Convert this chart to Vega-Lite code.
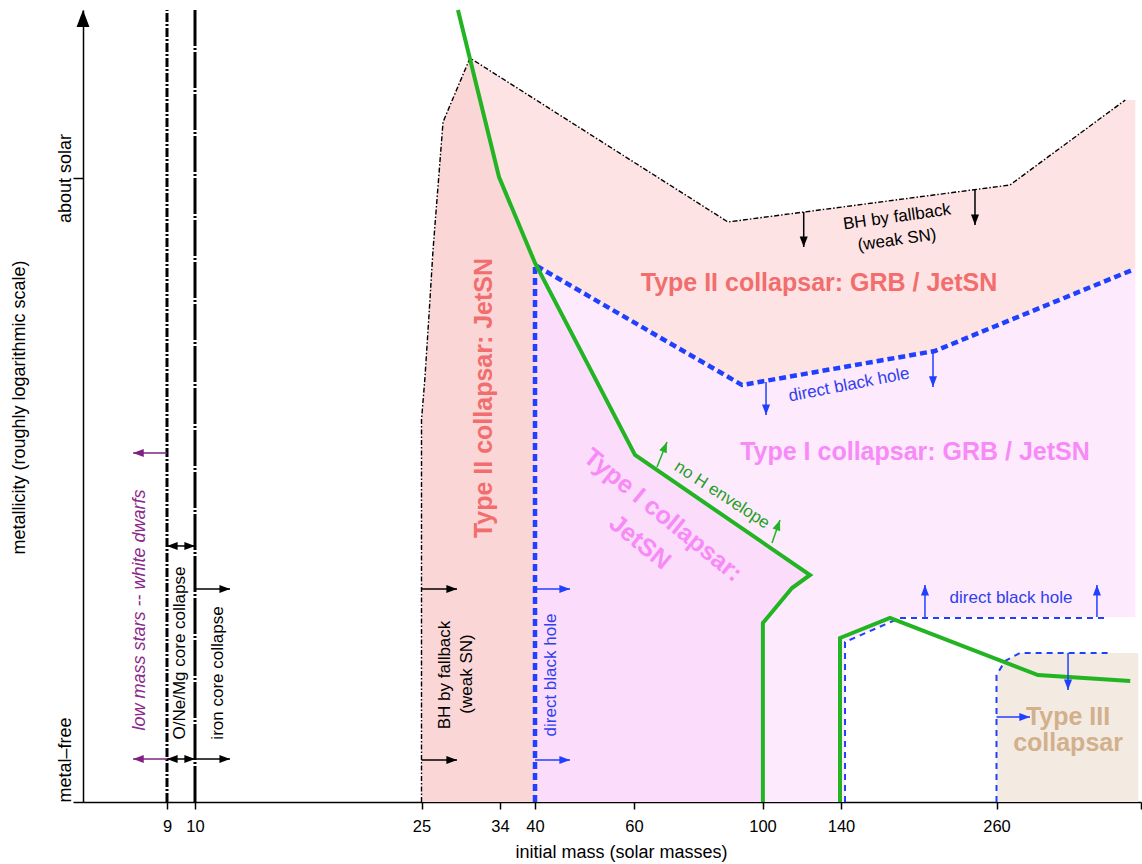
{
  "$schema": "https://vega.github.io/schema/vega-lite/v6.json",
  "width": 1058,
  "height": 792,
  "autosize": {"type": "none"},
  "padding": {"left": 83, "top": 10, "right": 1, "bottom": 62},
  "background": "white",
  "config": {"view": {"stroke": null}, "font": "Liberation Sans"},
  "datasets": {
    "regions": [
      {"p": "II", "i": 0, "m": 25, "z": 0},
      {"p": "II", "i": 1, "m": 25, "z": 0.6122},
      {"p": "II", "i": 2, "m": 25.4, "z": 0.6811},
      {"p": "II", "i": 3, "m": 25.86, "z": 0.7804},
      {"p": "II", "i": 4, "m": 26.32, "z": 0.8846},
      {"p": "II", "i": 5, "m": 27.47, "z": 1.0897},
      {"p": "II", "i": 6, "m": 30.56, "z": 1.1923},
      {"p": "II", "i": 7, "m": 89.26, "z": 0.9295},
      {"p": "II", "i": 8, "m": 270.4, "z": 0.9888},
      {"p": "II", "i": 9, "m": 359.4, "z": 1.125},
      {"p": "II", "i": 10, "m": 367.1, "z": 1.125},
      {"p": "II", "i": 11, "m": 367.1, "z": 0.8558},
      {"p": "II", "i": 12, "m": 364.8, "z": 0.8526},
      {"p": "II", "i": 13, "m": 212.5, "z": 0.7228},
      {"p": "II", "i": 14, "m": 93.62, "z": 0.6683},
      {"p": "II", "i": 15, "m": 40, "z": 0.8606},
      {"p": "II", "i": 16, "m": 40, "z": 0},
      {"p": "IIx", "i": 0, "m": 25, "z": 0},
      {"p": "IIx", "i": 1, "m": 25, "z": 0.6122},
      {"p": "IIx", "i": 2, "m": 25.4, "z": 0.6811},
      {"p": "IIx", "i": 3, "m": 25.86, "z": 0.7804},
      {"p": "IIx", "i": 4, "m": 26.32, "z": 0.8846},
      {"p": "IIx", "i": 5, "m": 27.47, "z": 1.0897},
      {"p": "IIx", "i": 6, "m": 30.56, "z": 1.1923},
      {"p": "IIx", "i": 7, "m": 33.89, "z": 1.0016},
      {"p": "IIx", "i": 8, "m": 40, "z": 0.8638},
      {"p": "IIx", "i": 9, "m": 40, "z": 0},
      {"p": "I", "i": 0, "m": 40, "z": 0.8606},
      {"p": "I", "i": 1, "m": 93.62, "z": 0.6683},
      {"p": "I", "i": 2, "m": 212.5, "z": 0.7228},
      {"p": "I", "i": 3, "m": 364.8, "z": 0.8526},
      {"p": "I", "i": 4, "m": 367.1, "z": 0.8558},
      {"p": "I", "i": 5, "m": 367.1, "z": 0.2965},
      {"p": "I", "i": 6, "m": 185.5, "z": 0.2965},
      {"p": "I", "i": 7, "m": 143.1, "z": 0.2564},
      {"p": "I", "i": 8, "m": 143.1, "z": 0},
      {"p": "I", "i": 9, "m": 40, "z": 0},
      {"p": "Ix", "i": 0, "m": 40, "z": 0.8606},
      {"p": "Ix", "i": 1, "m": 60.31, "z": 0.5561},
      {"p": "Ix", "i": 2, "m": 124.21, "z": 0.3638},
      {"p": "Ix", "i": 3, "m": 115.03, "z": 0.3429},
      {"p": "Ix", "i": 4, "m": 100.2, "z": 0.2869},
      {"p": "Ix", "i": 5, "m": 100.2, "z": 0},
      {"p": "Ix", "i": 6, "m": 40, "z": 0},
      {"p": "III", "i": 0, "m": 260, "z": 0},
      {"p": "III", "i": 1, "m": 260, "z": 0.2035},
      {"p": "III", "i": 2, "m": 266.6, "z": 0.226},
      {"p": "III", "i": 3, "m": 278.1, "z": 0.2388},
      {"p": "III", "i": 4, "m": 369.4, "z": 0.2388},
      {"p": "III", "i": 5, "m": 369.4, "z": 0}
    ],
    "lines": [
      {"id": "g1", "i": 0, "m": 29.18, "z": 1.2692},
      {"id": "g1", "i": 1, "m": 33.89, "z": 1.0016},
      {"id": "g1", "i": 2, "m": 40, "z": 0.8638},
      {"id": "g1", "i": 3, "m": 60.31, "z": 0.5561},
      {"id": "g1", "i": 4, "m": 124.21, "z": 0.3638},
      {"id": "g1", "i": 5, "m": 115.03, "z": 0.3429},
      {"id": "g1", "i": 6, "m": 100.2, "z": 0.2869},
      {"id": "g1", "i": 7, "m": 100.2, "z": 0},
      {"id": "g2", "i": 0, "m": 139.5, "z": 0},
      {"id": "g2", "i": 1, "m": 139.5, "z": 0.2628},
      {"id": "g2", "i": 2, "m": 177.8, "z": 0.2949},
      {"id": "g2", "i": 3, "m": 292.0, "z": 0.2035},
      {"id": "g2", "i": 4, "m": 363.2, "z": 0.1939},
      {"id": "b1", "i": 0, "m": 40, "z": 0},
      {"id": "b1", "i": 1, "m": 40, "z": 0.8606},
      {"id": "b1", "i": 2, "m": 93.62, "z": 0.6683},
      {"id": "b1", "i": 3, "m": 212.5, "z": 0.7228},
      {"id": "b1", "i": 4, "m": 364.8, "z": 0.8526},
      {"id": "b2", "i": 0, "m": 143.1, "z": 0},
      {"id": "b2", "i": 1, "m": 143.1, "z": 0.2564},
      {"id": "b2", "i": 2, "m": 185.5, "z": 0.2949},
      {"id": "b2", "i": 3, "m": 345.5, "z": 0.2949},
      {"id": "b3", "i": 0, "m": 260, "z": 0},
      {"id": "b3", "i": 1, "m": 260, "z": 0.2035},
      {"id": "b3", "i": 2, "m": 266.6, "z": 0.226},
      {"id": "b3", "i": 3, "m": 278.1, "z": 0.2388},
      {"id": "b3", "i": 4, "m": 347.8, "z": 0.2388},
      {"id": "f1", "i": 0, "m": 25, "z": 0},
      {"id": "f1", "i": 1, "m": 25, "z": 0.6122},
      {"id": "f1", "i": 2, "m": 25.4, "z": 0.6811},
      {"id": "f1", "i": 3, "m": 25.86, "z": 0.7804},
      {"id": "f1", "i": 4, "m": 26.32, "z": 0.8846},
      {"id": "f1", "i": 5, "m": 27.47, "z": 1.0897},
      {"id": "f1", "i": 6, "m": 30.56, "z": 1.1923},
      {"id": "f1", "i": 7, "m": 89.26, "z": 0.9295},
      {"id": "f1", "i": 8, "m": 270.4, "z": 0.9888},
      {"id": "f1", "i": 9, "m": 359.4, "z": 1.125},
      {"id": "v9", "i": 0, "m": 9, "z": 0},
      {"id": "v9", "i": 1, "m": 9, "z": 1.2692},
      {"id": "v10", "i": 0, "m": 10, "z": 0},
      {"id": "v10", "i": 1, "m": 10, "z": 1.2692}
    ],
    "arrows": [
      {"m": 9, "z": 0.5593, "m2": 7.79, "z2": 0.5593, "c": "#802080", "a": 270},
      {"m": 9, "z": 0.0689, "m2": 7.79, "z2": 0.0689, "c": "#802080", "a": 270},
      {"m": 9.5, "z": 0.4103, "m2": 9, "z2": 0.4103, "c": "black", "a": 270},
      {"m": 9.5, "z": 0.4103, "m2": 10, "z2": 0.4103, "c": "black", "a": 90},
      {"m": 9.5, "z": 0.0689, "m2": 9, "z2": 0.0689, "c": "black", "a": 270},
      {"m": 9.5, "z": 0.0689, "m2": 10, "z2": 0.0689, "c": "black", "a": 90},
      {"m": 10, "z": 0.3413, "m2": 12.32, "z2": 0.3413, "c": "black", "a": 90},
      {"m": 10, "z": 0.0689, "m2": 12.32, "z2": 0.0689, "c": "black", "a": 90},
      {"m": 25, "z": 0.3413, "m2": 29.07, "z2": 0.3413, "c": "black", "a": 90},
      {"m": 25, "z": 0.0673, "m2": 29.07, "z2": 0.0673, "c": "black", "a": 90},
      {"m": 40, "z": 0.3413, "m2": 47.07, "z2": 0.3413, "c": "#2040ff", "a": 90},
      {"m": 40, "z": 0.0673, "m2": 47.07, "z2": 0.0673, "c": "#2040ff", "a": 90},
      {"m": 121.0, "z": 0.9455, "m2": 121.0, "z2": 0.8894, "c": "black", "a": 180},
      {"m": 243.4, "z": 0.9808, "m2": 243.4, "z2": 0.9247, "c": "black", "a": 180},
      {"m": 101.8, "z": 0.6731, "m2": 101.8, "z2": 0.6202, "c": "#2040ff", "a": 180},
      {"m": 211.0, "z": 0.7196, "m2": 211.0, "z2": 0.6651, "c": "#2040ff", "a": 180},
      {"m": 204.8, "z": 0.2965, "m2": 204.8, "z2": 0.3478, "c": "#2040ff", "a": 0},
      {"m": 337.5, "z": 0.2965, "m2": 337.5, "z2": 0.3478, "c": "#2040ff", "a": 0},
      {"m": 315.2, "z": 0.2388, "m2": 315.2, "z2": 0.1795, "c": "#2040ff", "a": 180},
      {"m": 260, "z": 0.1362, "m2": 285.8, "z2": 0.1362, "c": "#2040ff", "a": 90},
      {"m": 67.16, "z": 0.5369, "m2": 70.27, "z2": 0.5769, "c": "#22b422", "a": 22},
      {"m": 104.84, "z": 0.4151, "m2": 108.92, "z2": 0.4519, "c": "#22b422", "a": 20}
    ],
    "labels": [
      {"g": "big", "t": "Type II collapsar: GRB / JetSN", "m": 128.8, "z": 0.8317, "a": 0, "c": "#f26d6d"},
      {"g": "big", "t": "Type I collapsar: GRB / JetSN", "m": 197.1, "z": 0.5609, "a": 0, "c": "#f78af7"},
      {"g": "big", "t": "Type II collapsar: JetSN", "m": 32.17, "z": 0.6474, "a": 270, "c": "#f26d6d"},
      {"g": "big", "t": "Type I collapsar:", "m": 69.03, "z": 0.4599, "a": 39, "c": "#f78af7"},
      {"g": "big", "t": "JetSN", "m": 61.87, "z": 0.4167, "a": 39, "c": "#f78af7"},
      {"g": "big", "t": "Type III", "m": 315.2, "z": 0.1362, "a": 0, "c": "#d2b08c"},
      {"g": "big", "t": "collapsar", "m": 315.2, "z": 0.0946, "a": 0, "c": "#d2b08c"},
      {"g": "small", "t": "BH by fallback", "m": 183.2, "z": 0.9375, "a": -8, "c": "black"},
      {"g": "small", "t": "(weak SN)", "m": 183.2, "z": 0.9006, "a": -8, "c": "black"},
      {"g": "small", "t": "direct black hole", "m": 146.2, "z": 0.6683, "a": -11, "c": "#3040ee"},
      {"g": "small", "t": "direct black hole", "m": 271.2, "z": 0.3269, "a": 0, "c": "#3040ee"},
      {"g": "small", "t": "no H envelope", "m": 87.39, "z": 0.492, "a": 33, "c": "#1f9f1f"},
      {"g": "small", "t": "BH by fallback", "m": 27.69, "z": 0.2035, "a": 270, "c": "black"},
      {"g": "small", "t": "(weak SN)", "m": 30.22, "z": 0.2051, "a": 270, "c": "black"},
      {"g": "small", "t": "direct black hole", "m": 43.23, "z": 0.2035, "a": 270, "c": "#3040ee"},
      {"g": "small", "t": "O/Ne/Mg core collapse", "m": 9.46, "z": 0.2388, "a": 270, "c": "black"},
      {"g": "small", "t": "iron core collapse", "m": 11.52, "z": 0.2067, "a": 270, "c": "black"},
      {"g": "italic", "t": "low mass stars -- white dwarfs", "m": 8.04, "z": 0.3077, "a": 270, "c": "#8a2a8a"}
    ],
    "axisarrow": [{"m": 6, "z": 1.2692, "a": 0}]
  },
  "encoding": {
    "x": {
      "field": "m", "type": "quantitative",
      "scale": {"type": "linear", "domain": [6, 9, 10, 25, 34, 40, 60, 100, 140, 260, 371.5], "range": [0, 84, 112, 338.5, 417, 452, 551, 679.5, 758, 913.5, 1058], "nice": false, "zero": false},
      "axis": {
        "values": [9, 10, 25, 34, 40, 60, 100, 140, 260, 371.5],
        "labelExpr": "datum.value > 300 ? '' : datum.label",
        "format": "d",
        "title": "initial mass (solar masses)",
        "grid": false,
        "domainColor": "black", "domainWidth": 1.5,
        "tickColor": "black", "tickWidth": 1.5, "tickSize": 7,
        "labelFont": "Liberation Sans", "labelFontSize": 16.5, "labelColor": "black",
        "labelPadding": 17, "labelBaseline": "middle", "labelFlush": false, "labelOverlap": false,
        "titleFont": "Liberation Sans", "titleFontSize": 18, "titleFontWeight": "normal", "titleColor": "black",
        "titleX": 538, "titleY": 50, "titleBaseline": "middle", "titleAlign": "center"
      }
    },
    "y": {
      "field": "z", "type": "quantitative",
      "scale": {"domain": [0, 1.26923], "nice": false, "zero": false},
      "axis": {
        "values": [0, 1],
        "labelExpr": "datum.value < 0.5 ? 'metal–free' : 'about solar'",
        "grid": false,
        "domainColor": "black", "domainWidth": 1.5,
        "tickColor": "black", "tickWidth": 1.5, "tickSize": 10,
        "labelAngle": 270,
        "labelAlign": {"condition": {"test": "datum.value < 0.5", "value": "left"}, "value": "center"},
        "labelBaseline": "alphabetic",
        "labelPadding": 3,
        "labelFont": "Liberation Sans", "labelFontSize": 18, "labelColor": "black",
        "labelFlush": false, "labelOverlap": false, "labelBound": false,
        "title": "metallicity (roughly logarithmic scale)",
        "titleFont": "Liberation Sans", "titleFontSize": 18, "titleFontWeight": "normal", "titleColor": "black",
        "titleAngle": 270, "titleX": -64, "titleY": 397, "titleBaseline": "middle", "titleAlign": "center"
      }
    }
  },
  "layer": [
    {
      "data": {"name": "regions"},
      "transform": [{"filter": "datum.p == 'II'"}],
      "mark": {"type": "line", "interpolate": "linear-closed", "fill": "#fde3e3", "stroke": null, "strokeWidth": 0},
      "encoding": {"order": {"field": "i", "type": "quantitative"}}
    },
    {
      "data": {"name": "regions"},
      "transform": [{"filter": "datum.p == 'IIx'"}],
      "mark": {"type": "line", "interpolate": "linear-closed", "fill": "#fbd6d6", "stroke": null, "strokeWidth": 0},
      "encoding": {"order": {"field": "i", "type": "quantitative"}}
    },
    {
      "data": {"name": "regions"},
      "transform": [{"filter": "datum.p == 'I'"}],
      "mark": {"type": "line", "interpolate": "linear-closed", "fill": "#fdeafd", "stroke": null, "strokeWidth": 0},
      "encoding": {"order": {"field": "i", "type": "quantitative"}}
    },
    {
      "data": {"name": "regions"},
      "transform": [{"filter": "datum.p == 'Ix'"}],
      "mark": {"type": "line", "interpolate": "linear-closed", "fill": "#fbddfb", "stroke": null, "strokeWidth": 0},
      "encoding": {"order": {"field": "i", "type": "quantitative"}}
    },
    {
      "data": {"name": "regions"},
      "transform": [{"filter": "datum.p == 'III'"}],
      "mark": {"type": "line", "interpolate": "linear-closed", "fill": "#f3ebe2", "stroke": null, "strokeWidth": 0},
      "encoding": {"order": {"field": "i", "type": "quantitative"}}
    },
    {
      "data": {"name": "lines"},
      "transform": [{"filter": "datum.id == 'f1'"}],
      "mark": {"type": "line", "color": "black", "strokeWidth": 1.4, "strokeDash": [5, 2, 1.5, 2]},
      "encoding": {"order": {"field": "i", "type": "quantitative"}}
    },
    {
      "data": {"name": "lines"},
      "transform": [{"filter": "datum.id == 'v9'"}],
      "mark": {"type": "line", "color": "black", "strokeWidth": 3, "strokeDash": [9, 2, 2, 2]},
      "encoding": {"order": {"field": "i", "type": "quantitative"}}
    },
    {
      "data": {"name": "lines"},
      "transform": [{"filter": "datum.id == 'v10'"}],
      "mark": {"type": "line", "color": "black", "strokeWidth": 3, "strokeDash": [36, 2, 2, 2]},
      "encoding": {"order": {"field": "i", "type": "quantitative"}}
    },
    {
      "data": {"name": "lines"},
      "transform": [{"filter": "datum.id == 'b2' || datum.id == 'b3'"}],
      "mark": {"type": "line", "color": "#2040ff", "strokeWidth": 2, "strokeDash": [6, 5]},
      "encoding": {"order": {"field": "i", "type": "quantitative"}, "detail": {"field": "id"}}
    },
    {
      "data": {"name": "lines"},
      "transform": [{"filter": "datum.id == 'b1'"}],
      "mark": {"type": "line", "color": "#2040ff", "strokeWidth": 4.5, "strokeDash": [7, 4]},
      "encoding": {"order": {"field": "i", "type": "quantitative"}}
    },
    {
      "data": {"name": "lines"},
      "transform": [{"filter": "datum.id == 'g1' || datum.id == 'g2'"}],
      "mark": {"type": "line", "color": "#22b422", "strokeWidth": 4, "strokeJoin": "miter"},
      "encoding": {"order": {"field": "i", "type": "quantitative"}, "detail": {"field": "id"}}
    },
    {
      "data": {"name": "arrows"},
      "mark": {"type": "rule", "strokeWidth": 1.5},
      "encoding": {
        "x2": {"field": "m2"},
        "y2": {"field": "z2"},
        "color": {"field": "c", "type": "nominal", "scale": null}
      }
    },
    {
      "data": {"name": "arrows"},
      "mark": {"type": "point", "shape": "M0,0L0.38,1L-0.38,1Z", "filled": true, "size": 450, "opacity": 1, "strokeWidth": 0},
      "encoding": {
        "x": {"field": "m2", "type": "quantitative"},
        "y": {"field": "z2", "type": "quantitative"},
        "angle": {"field": "a", "type": "quantitative", "scale": null},
        "color": {"field": "c", "type": "nominal", "scale": null}
      }
    },
    {
      "data": {"name": "axisarrow"},
      "mark": {"type": "point", "shape": "M0,0L0.38,1L-0.38,1Z", "filled": true, "size": 1156, "opacity": 1, "strokeWidth": 0, "color": "black"},
      "encoding": {"angle": {"field": "a", "type": "quantitative", "scale": null}}
    },
    {
      "data": {"name": "labels"},
      "transform": [{"filter": "datum.g == 'big'"}],
      "mark": {"type": "text", "font": "Liberation Sans", "fontSize": 25, "fontWeight": "bold", "align": "center", "baseline": "middle"},
      "encoding": {
        "text": {"field": "t"},
        "angle": {"field": "a", "type": "quantitative", "scale": null},
        "color": {"field": "c", "type": "nominal", "scale": null}
      }
    },
    {
      "data": {"name": "labels"},
      "transform": [{"filter": "datum.g == 'small'"}],
      "mark": {"type": "text", "font": "Liberation Sans", "fontSize": 17, "align": "center", "baseline": "middle"},
      "encoding": {
        "text": {"field": "t"},
        "angle": {"field": "a", "type": "quantitative", "scale": null},
        "color": {"field": "c", "type": "nominal", "scale": null}
      }
    },
    {
      "data": {"name": "labels"},
      "transform": [{"filter": "datum.g == 'italic'"}],
      "mark": {"type": "text", "font": "Liberation Sans", "fontSize": 18, "fontStyle": "italic", "align": "center", "baseline": "middle"},
      "encoding": {
        "text": {"field": "t"},
        "angle": {"field": "a", "type": "quantitative", "scale": null},
        "color": {"field": "c", "type": "nominal", "scale": null}
      }
    }
  ]
}
